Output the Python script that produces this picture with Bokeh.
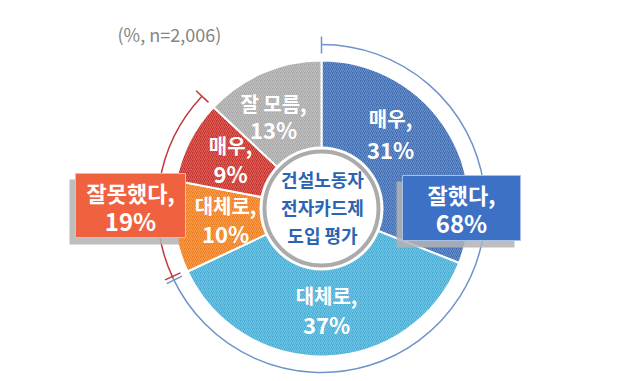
import numpy as np
from bokeh.plotting import figure
from bokeh.models import Range1d, ColumnDataSource
from bokeh.core.properties import value
from bokeh.embed import file_html
from bokeh.resources import INLINE

# ---- data ----
segments = ["매우", "대체로", "대체로", "매우", "잘 모름"]
shares = [31, 37, 10, 9, 13]
slice_colors = ["#3c6cb3", "#46aed6", "#ef7d1c", "#c8302a", "#a9a9a9"]
group_labels = ["잘했다", "잘못했다"]
group_shares = [68, 19]
note = "(%, n=2,006)"
center_lines = ["건설노동자", "전자카드제", "도입 평가"]

W, H = 640, 381
def Y(v):
    return H - v

CX, CY = 321, Y(208)
R_PIE = 148
R_ARC = 164
FONT = "Noto Sans CJK KR"

p = figure(width=W, height=H, x_range=Range1d(0, W), y_range=Range1d(0, H),
           output_backend="svg", toolbar_location=None, min_border=0)
p.axis.visible = False
p.grid.visible = False
p.outline_line_color = None
p.background_fill_color = "white"

# ---- pie slices ----
vals = np.array(shares, dtype=float)
frac = vals / vals.sum()
cum_end = np.cumsum(frac)
cum_start = cum_end - frac
start_ang = np.pi / 2 - 2 * np.pi * cum_end
end_ang = np.pi / 2 - 2 * np.pi * cum_start
src = ColumnDataSource(dict(start=start_ang, end=end_ang, color=slice_colors))
p.annular_wedge(x=CX, y=CY, inner_radius=0, outer_radius=R_PIE,
                start_angle="start", end_angle="end", source=src,
                fill_color="color", line_color="white", line_width=2,
                hatch_pattern="/", hatch_color="white", hatch_alpha=0.28,
                hatch_scale=4, hatch_weight=1)

# centre disc
p.circle(x=CX, y=CY, radius=62, fill_color="white", line_color=None)
p.circle(x=CX, y=CY, radius=57, fill_color="white", line_color="#ababab", line_width=4)
for i, t in enumerate(center_lines):
    p.text(x=[CX + 1], y=[Y(178 + 28 * i)], text=[t], text_font=value(FONT),
           text_font_style="bold", text_font_size="18px", text_color="#2c64b4",
           text_align="center", text_baseline="middle")

# ---- group brackets ----
g_frac = np.array(group_shares, dtype=float) / vals.sum()
good_end = g_frac[0]
bad_start = good_end
bad_end = good_end + g_frac[1]
def ang(f):
    return np.pi / 2 - 2 * np.pi * f

p.arc(x=CX, y=CY, radius=R_ARC, start_angle=ang(good_end), end_angle=ang(0),
      line_color="#6d93cc", line_width=1.5)
p.arc(x=CX, y=CY, radius=R_ARC, start_angle=ang(bad_end), end_angle=ang(bad_start),
      line_color="#c0393a", line_width=1.5)
tick_ang = [ang(0), ang(good_end) + 0.012, ang(bad_start) - 0.012, ang(bad_end)]
tick_col = ["#6d93cc", "#6d93cc", "#c0393a", "#c0393a"]
ta = np.array(tick_ang)
p.segment(x0=CX + (R_ARC - 9) * np.cos(ta), y0=CY + (R_ARC - 9) * np.sin(ta),
          x1=CX + (R_ARC + 8) * np.cos(ta), y1=CY + (R_ARC + 8) * np.sin(ta),
          line_color=tick_col, line_width=1.5)

# ---- slice labels ----
label_pos = [(390, 118, 148), (326, 295, 323), (225, 205, 232), (230, 145, 172), (273, 103, 128)]
for seg, sh, (lx, ly1, ly2) in zip(segments, shares, label_pos):
    p.text(x=[lx], y=[Y(ly1)], text=[seg + ","], text_font=value(FONT),
           text_font_style="bold", text_font_size="20px", text_color="white",
           text_align="center", text_baseline="middle")
    p.text(x=[lx], y=[Y(ly2)], text=[f"{sh}%"], text_font=value(FONT),
           text_font_style="bold", text_font_size="22px", text_color="white",
           text_align="center", text_baseline="middle")

# ---- group boxes ----
boxes = [(402, 520, 175, 240, "#3d71c6", "#a8c0e6"), (75, 185, 173, 237, "#f0613f", "#f7b3a3")]
for (l, r, t, b, fc, lc), gl, gs in zip(boxes, group_labels, group_shares):
    p.quad(left=l - 6, right=r - 6, top=Y(t + 6), bottom=Y(b + 7),
           fill_color="#b3b3b3", fill_alpha=0.85, line_color=None)
    p.quad(left=l, right=r, top=Y(t), bottom=Y(b), fill_color=fc,
           line_color=lc, line_width=1)
    cx = (l + r) / 2
    p.text(x=[cx], y=[Y(t + 18)], text=[gl + ","], text_font=value(FONT),
           text_font_style="bold", text_font_size="22px", text_color="white",
           text_align="center", text_baseline="middle")
    p.text(x=[cx], y=[Y(t + 47)], text=[f"{gs}%"], text_font=value(FONT),
           text_font_style="bold", text_font_size="24px", text_color="white",
           text_align="center", text_baseline="middle")

# ---- note ----
p.text(x=[117], y=[Y(33)], text=[note], text_font=value(FONT),
       text_font_size="18px", text_color="#858585",
       text_align="left", text_baseline="middle")

open("out.html", "w").write(file_html(p, INLINE))
